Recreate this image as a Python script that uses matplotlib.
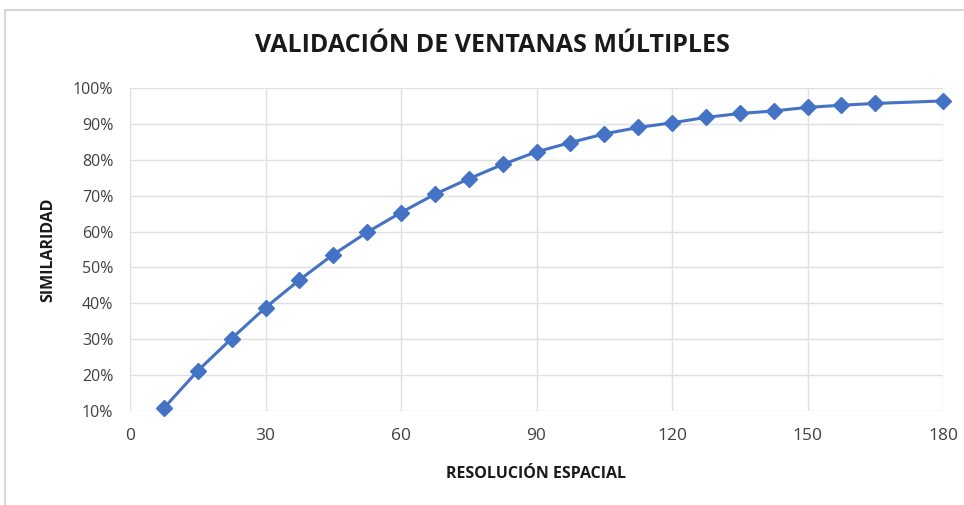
import matplotlib.pyplot as plt
from matplotlib.patches import Rectangle
from matplotlib.ticker import FuncFormatter, MultipleLocator

# data
resolucion = [7.5, 15, 22.5, 30, 37.5, 45, 52.5, 60, 67.5, 75, 82.5, 90,
              97.5, 105, 112.5, 120, 127.5, 135, 142.5, 150, 157.5, 165, 180]
similaridad = [10.8, 21.2, 30.2, 38.8, 46.5, 53.6, 59.8, 65.3, 70.4, 74.7,
               78.7, 82.2, 84.8, 87.2, 89.0, 90.3, 91.8, 92.9, 93.6, 94.6,
               95.2, 95.7, 96.4]

titulo = 'VALIDACIÓN DE VENTANAS MÚLTIPLES'
xlabel = 'RESOLUCIÓN ESPACIAL'
ylabel = 'SIMILARIDAD'

plt.rcParams['font.family'] = ['Open Sans', 'DejaVu Sans']

fig = plt.figure(figsize=(9.64, 5.05), dpi=100)
ax = fig.add_axes([130/964, 1-411/505, (943-130)/964, (411-88)/505])

# chart border
fig.patches.append(Rectangle((5/964, -0.02), 1.1, 1-10/505+0.02,
                             transform=fig.transFigure, fill=False,
                             edgecolor='#d0d0d0', lw=1.2))

ax.plot(resolucion, similaridad, color='#4472C4', lw=2.2, clip_on=False,
        marker='D', markersize=8.5, markeredgecolor='#4472C4', zorder=3)

ax.set_xlim(0, 180)
ax.set_ylim(10, 100)
ax.xaxis.set_major_locator(MultipleLocator(30))
ax.yaxis.set_major_locator(MultipleLocator(10))
ax.yaxis.set_major_formatter(FuncFormatter(lambda v, p: '%d%%' % v))
ax.grid(True, color='#e0e0e0', lw=1.0)
for s in ax.spines.values():
    s.set_visible(False)
ax.tick_params(axis='y', length=0, labelsize=11.5, colors='#404040', pad=12)
ax.tick_params(axis='x', length=0, labelsize=12.5, colors='#404040', pad=12)

ax.set_xlabel(xlabel, fontsize=11.5, fontweight='bold', color='#1a1a1a',
              labelpad=16)
ax.set_ylabel(ylabel, fontsize=11.5, fontweight='bold', color='#1a1a1a',
              labelpad=12)

fig.text(492/964, 1-45/505, titulo, ha='center', va='center', fontsize=18,
         fontweight='bold', color='#1a1a1a')

fig.savefig('out.png', dpi=100)
plt.close()
